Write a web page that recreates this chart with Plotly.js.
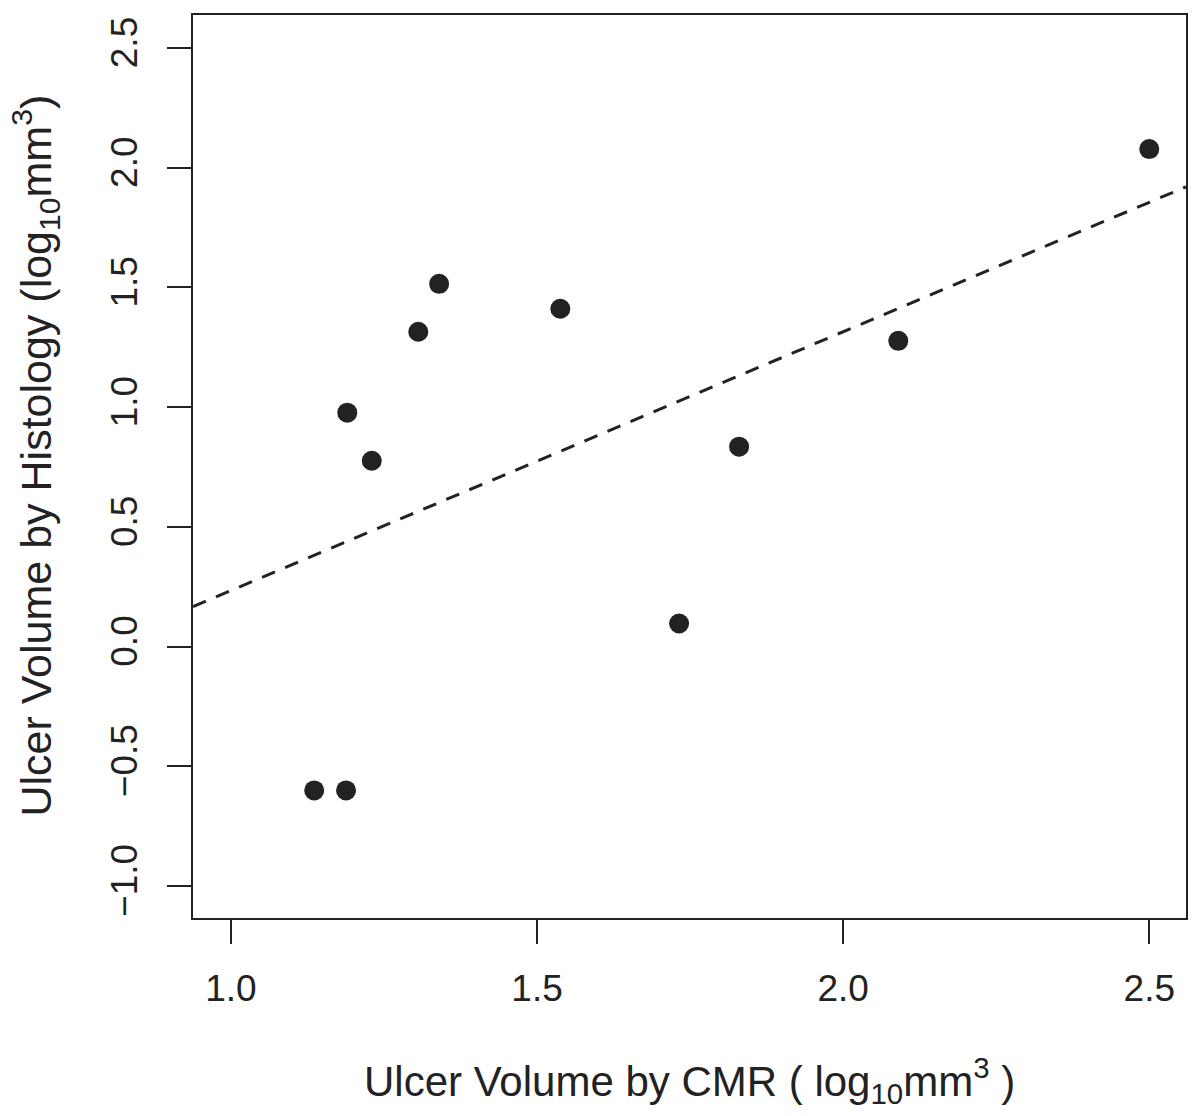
<!DOCTYPE html>
<html>
<head>
<meta charset="utf-8">
<script src="https://cdn.plot.ly/plotly-3.0.1.min.js"></script>
<style>html,body{margin:0;padding:0;background:#fff;}</style>
</head>
<body>
<div id="chart" style="width:1200px;height:1116px;"></div>
<script>
// Data
const cmrVolume = [1.136, 1.188, 1.190, 1.230, 1.306, 1.340, 1.538, 1.732, 1.830, 2.090, 2.500];
const histologyVolume = [-0.601, -0.601, 0.977, 0.776, 1.315, 1.515, 1.411, 0.096, 0.835, 1.277, 2.078];
// Fitted line (abline)
const fitIntercept = -0.847;
const fitSlope = 1.081;
const xTicks = [1.0, 1.5, 2.0, 2.5];
const xTickLabels = ["1.0", "1.5", "2.0", "2.5"];
const yTicks = [-1.0, -0.5, 0.0, 0.5, 1.0, 1.5, 2.0, 2.5];
const yTickLabels = ["\u22121.0", "\u22120.5", "0.0", "0.5", "1.0", "1.5", "2.0", "2.5"];

const xRange = [0.938, 2.560];
const yRange = [-1.134, 2.638];
const lineX = xRange.slice();
const lineY = lineX.map(x => fitIntercept + fitSlope * x);

const font = 'Liberation Sans, Arial, Helvetica, sans-serif';
const ink = '#222222';

const traces = [
  {
    x: lineX, y: lineY, type: 'scatter', mode: 'lines',
    line: {color: ink, width: 3, dash: '14px,11px'},
    hoverinfo: 'skip', cliponaxis: true
  },
  {
    x: cmrVolume, y: histologyVolume, type: 'scatter', mode: 'markers',
    marker: {color: ink, size: 20, line: {width: 0}}
  }
];

const axisCommon = {
  showgrid: false, zeroline: false, showline: true, mirror: true,
  linecolor: ink, linewidth: 2,
  ticks: 'outside', ticklen: 24, tickwidth: 2, tickcolor: ink,
  tickfont: {family: font, size: 37, color: ink},
  fixedrange: true
};

const layout = {
  width: 1200, height: 1116,
  margin: {l: 193, r: 14, t: 15, b: 198},
  paper_bgcolor: '#ffffff', plot_bgcolor: '#ffffff',
  showlegend: false,
  xaxis: Object.assign({}, axisCommon, {
    range: xRange, tickmode: 'array', tickvals: xTicks, ticktext: xTickLabels,
    ticklabelstandoff: 13
  }),
  yaxis: Object.assign({}, axisCommon, {
    range: yRange, tickmode: 'array', tickvals: yTicks, ticktext: yTickLabels,
    tickangle: -90, ticklabelstandoff: 15
  }),
  annotations: [
    {
      text: 'Ulcer Volume by CMR ( log<sub>10</sub>mm<sup>3</sup> )',
      xref: 'paper', yref: 'paper', x: 0.5, y: 0, yanchor: 'top',
      yshift: -131, showarrow: false,
      font: {family: font, size: 42, color: ink}
    },
    {
      text: 'Ulcer Volume by Histology (log<sub>10</sub>mm<sup>3</sup>)',
      xref: 'paper', yref: 'paper', x: 0, y: 0.5, xanchor: 'center',
      xshift: -158, yshift: 11, textangle: -90, showarrow: false,
      font: {family: font, size: 43, color: ink}
    }
  ]
};

Plotly.newPlot('chart', traces, layout, {displayModeBar: false, staticPlot: true});
</script>
</body>
</html>
